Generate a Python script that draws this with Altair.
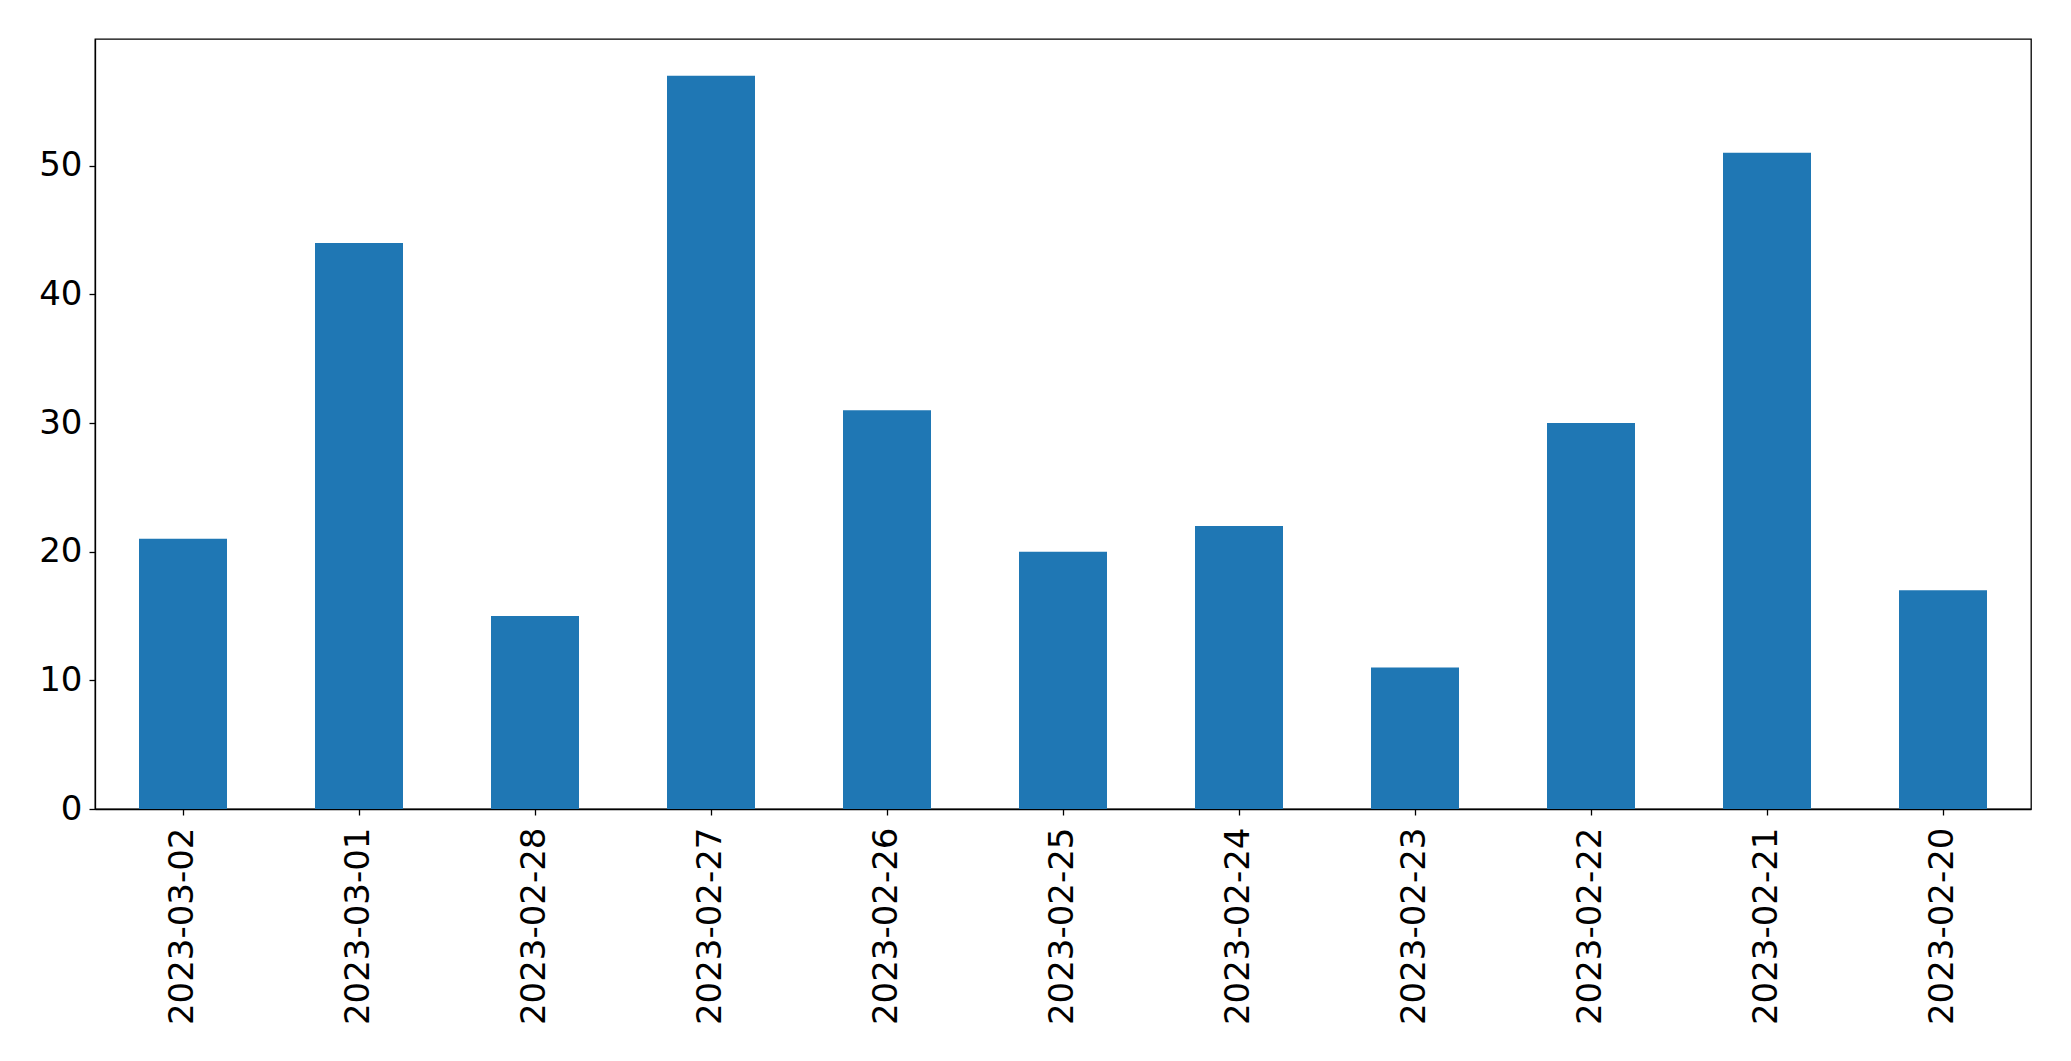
import altair as alt
import pandas as pd

dates = ["2023-03-02", "2023-03-01", "2023-02-28", "2023-02-27", "2023-02-26",
         "2023-02-25", "2023-02-24", "2023-02-23", "2023-02-22", "2023-02-21",
         "2023-02-20"]
counts = [21, 44, 15, 57, 31, 20, 22, 11, 30, 51, 17]

df = pd.DataFrame({"date": dates, "count": counts})

font = "DejaVu Sans"

chart = alt.Chart(df).mark_bar(color="#1f77b4").encode(
    x=alt.X("date:N", sort=None, title=None,
            scale=alt.Scale(paddingInner=0.5, paddingOuter=0.25),
            axis=alt.Axis(labelAngle=-90, labelFontSize=34, labelFont=font,
                          labelColor="black", tickColor="black", tickSize=6,
                          tickWidth=1.3, labelPadding=12, domainColor="black",
                          domainWidth=1.3, labelLimit=0)),
    y=alt.Y("count:Q", title=None,
            scale=alt.Scale(domain=[0, 59.85], nice=False),
            axis=alt.Axis(values=[0, 10, 20, 30, 40, 50], labelFontSize=34,
                          labelFont=font, labelColor="black", tickColor="black",
                          tickSize=6, tickWidth=1.3, labelPadding=7,
                          domainColor="black", domainWidth=1.3, grid=False)),
).properties(
    width=1936, height=770,
    autosize=alt.AutoSizeParams(type="none"),
    padding={"left": 87, "top": 31, "right": 32, "bottom": 240},
).configure_view(
    stroke="black", strokeWidth=1.3
)

chart.save("out.html", embed_options={"renderer": "svg", "actions": False})
